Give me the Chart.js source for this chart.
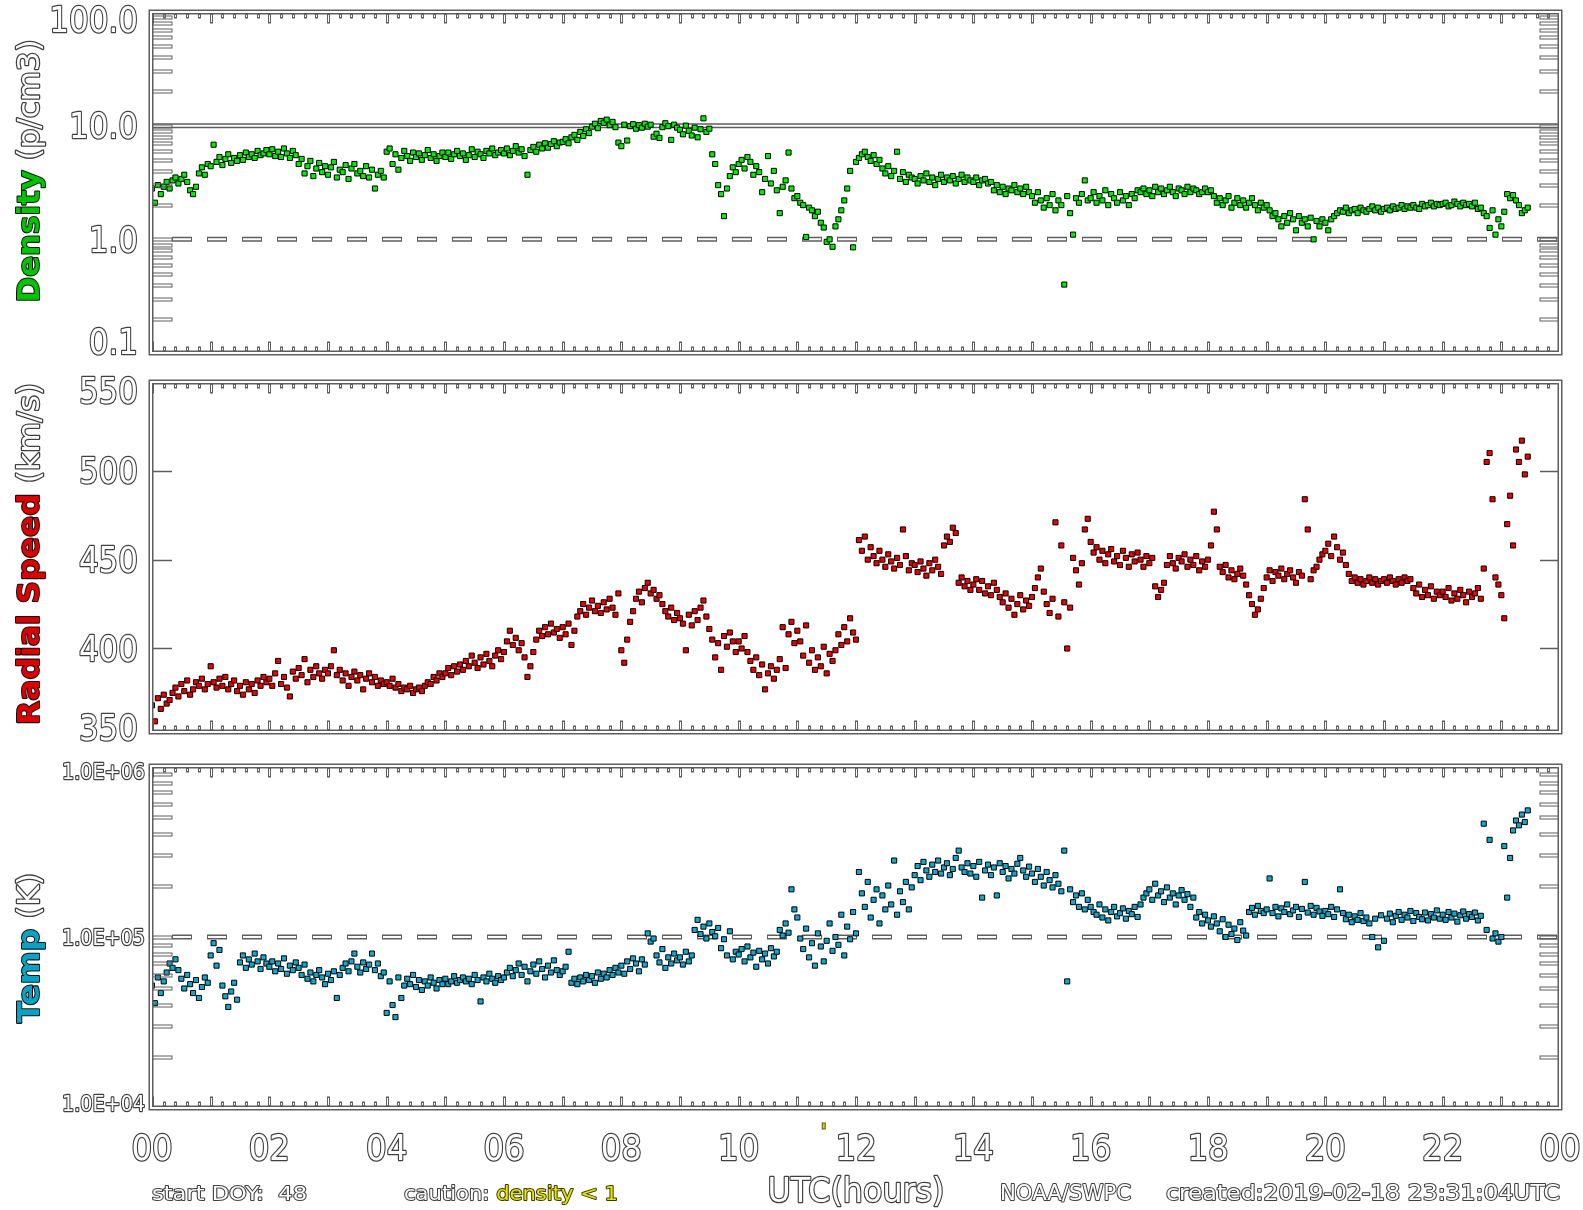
<!DOCTYPE html>
<html>
<head>
<meta charset="utf-8">
<title>Solar wind plasma, 24 h</title>
<script src="https://cdn.jsdelivr.net/npm/chart.js@4.4.1/dist/chart.umd.min.js"></script>
<style>
  html, body { margin: 0; padding: 0; background: #ffffff; }
  #wrap { position: relative; width: 1583px; height: 1210px; overflow: hidden; background: #fff; }
  #wrap canvas { position: absolute; left: 0; }
</style>
</head>
<body>
<div id="wrap">
  <canvas id="cDensity" width="1583" height="370" style="top:0px"></canvas>
  <canvas id="cSpeed" width="1583" height="380" style="top:370px"></canvas>
  <canvas id="cTemp" width="1583" height="460" style="top:750px"></canvas>
</div>
<script>
// Samples every 3 minutes, starting at 00 UTC.
const STEP_H = 0.05;

// Proton density, p/cm3
const density = [
  2.8, 2.1, 3.0, 2.5, 2.9, 3.2, 2.8, 3.3, 3.5, 3.1, 3.4, 3.7, 3.2, 2.7, 2.5, 2.9, 3.8, 4.3, 3.7, 4.6,
  4.4, 6.8, 4.8, 5.3, 4.5, 5.1, 5.6, 4.7, 5.2, 4.9, 5.5, 5.0, 5.8, 5.3, 5.6, 5.2, 6.0, 5.5, 5.7, 6.1,
  5.6, 6.2, 5.4, 5.9, 5.3, 6.3, 5.7, 5.2, 6.0, 5.5, 4.6, 5.1, 3.8, 4.4, 4.9, 3.6, 4.2, 4.7, 3.9, 4.4,
  3.7, 4.3, 4.8, 3.5, 4.1, 3.9, 4.5, 3.4, 4.2, 4.6, 3.8, 4.0, 3.6, 4.4, 3.5, 4.1, 2.8, 3.7, 4.0, 3.5,
  5.9, 6.3, 4.6, 5.6, 4.1, 5.2, 6.0, 5.4, 4.9, 5.8, 5.3, 5.7, 5.0, 5.5, 6.1, 5.2, 5.6, 4.9, 5.4, 5.8,
  5.3, 5.8, 5.1, 5.6, 6.0, 5.4, 5.7, 5.0, 5.5, 6.2, 5.3, 5.9, 5.6, 5.2, 6.0, 5.7, 6.3, 5.5, 5.8, 6.1,
  5.7, 6.3, 5.5, 6.0, 6.6, 5.8, 6.2, 5.4, 3.7, 6.1, 6.5, 5.9, 6.8, 6.3, 7.0, 6.4, 6.9, 7.3, 6.6, 7.1,
  7.2, 7.6, 7.0, 7.9, 8.3, 7.5, 8.8, 8.1, 9.3, 8.6, 9.8, 10.4, 9.5, 11.0, 10.6, 11.3, 10.1, 10.8, 9.7, 7.1,
  6.6, 10.2, 7.4, 9.9, 10.3, 9.4, 10.1, 9.6, 10.4, 9.8, 10.2, 8.0, 8.5, 7.8, 9.7, 10.5, 9.9, 7.5, 10.2, 9.6,
  9.2, 8.4, 10.0, 9.0, 8.2, 9.6, 7.9, 9.3, 11.6, 8.8, 9.4, 5.6, 4.6, 3.0, 2.5, 1.6, 2.8, 3.6, 4.3, 3.9,
  4.6, 5.0, 4.2, 5.3, 4.8, 3.7, 4.4, 3.9, 2.6, 3.4, 5.4, 3.1, 4.0, 2.7, 1.7, 2.9, 3.3, 5.8, 2.8, 2.3,
  2.4, 2.1, 2.0, 1.05, 1.9, 1.8, 1.6, 1.75, 1.4, 1.27, 0.95, 1.0, 0.86, 1.3, 1.5, 1.8, 2.2, 2.8, 4.0, 0.85,
  4.8, 5.2, 5.6, 5.9, 5.3, 4.9, 5.5, 4.6, 5.0, 4.2, 3.8, 4.4, 3.6, 4.0, 5.9, 3.4, 3.9, 3.2, 3.7, 3.5,
  3.4, 3.1, 3.6, 3.3, 3.8, 3.2, 3.5, 3.0, 3.4, 3.7, 3.2, 3.5, 3.3, 3.6, 3.1, 3.4, 3.7, 3.2, 3.5, 3.3,
  3.2, 3.5, 3.0, 3.3, 3.4, 3.1, 3.2, 2.7, 3.0, 2.6, 2.9, 2.5, 2.8, 2.7, 3.0, 2.6, 2.8, 2.5, 2.9, 2.6,
  2.4, 2.1, 2.6, 2.2, 1.9, 2.3, 2.0, 2.5, 1.8, 2.2, 2.0, 0.4, 2.4, 1.7, 1.1, 2.3, 2.1, 2.5, 3.3, 2.2,
  2.3, 2.6, 2.1, 2.4, 2.2, 2.7, 2.0, 2.5, 2.3, 2.1, 2.6, 2.2, 2.4, 2.0, 2.5, 2.3, 2.7, 2.6, 2.8, 2.5,
  2.7, 2.4, 2.9, 2.6, 2.8, 2.5, 2.7, 2.9, 2.6, 2.4, 2.8, 2.7, 2.5, 2.9, 2.6, 2.8, 2.7, 2.5, 2.6, 2.8,
  2.6, 2.7, 2.4, 2.1, 2.3, 2.0, 2.2, 2.4, 1.9, 2.1, 2.3, 2.0, 2.2, 1.9, 2.1, 2.3, 2.0, 1.8, 2.1, 1.9,
  2.0, 1.8, 1.6, 1.7, 1.5, 1.3, 1.6, 1.4, 1.7, 1.5, 1.2, 1.6, 1.4, 1.5, 1.3, 1.55, 1.0, 1.45, 1.3, 1.5,
  1.4, 1.2, 1.5, 1.6, 1.7, 1.8, 1.75, 1.9, 1.7, 1.8, 1.85, 1.7, 1.9, 1.8, 1.75, 1.85, 1.95, 1.8, 1.9, 1.75,
  1.85, 1.9, 1.8, 1.95, 1.85, 1.9, 2.0, 1.85, 1.95, 1.9, 2.0, 1.9, 1.85, 2.05, 1.95, 2.0, 2.1, 1.95, 2.05, 2.0,
  2.05, 2.1, 1.95, 2.0, 2.15, 2.05, 1.95, 2.1, 2.0, 2.05, 1.95, 2.1, 1.85, 1.9, 1.7, 1.6, 1.26, 1.8, 1.1, 1.5,
  1.3, 1.75, 2.5, 2.3, 2.45, 2.2, 2.0, 1.7, 1.8, 1.9
];

// Radial bulk speed, km/s
const speed = [
  368, 359, 372, 366, 374, 369, 371, 375, 378, 373, 380, 376, 382, 374, 377, 381, 379, 383, 377, 380,
  390, 381, 378, 383, 379, 384, 377, 380, 382, 376, 379, 374, 381, 377, 380, 375, 382, 379, 384, 381,
  383, 379, 386, 393, 380, 384, 378, 373, 387, 383, 389, 385, 394, 381, 388, 384, 390, 386, 383, 388,
  386, 390, 399, 385, 388, 382, 386, 379, 384, 387, 382, 385, 377, 383, 386, 381, 384, 379, 382, 380,
  381, 379, 383, 378, 380, 376, 378, 377, 379, 375, 377, 378, 376, 379, 381, 380, 384, 382, 386, 384,
  386, 389, 385, 390, 387, 391, 388, 393, 390, 396, 392, 389, 395, 391, 397, 393, 390, 396, 399, 394,
  398, 404, 410, 402, 406, 399, 403, 395, 384, 390, 398, 405, 410, 407, 412, 408, 414, 409, 411, 406,
  412, 408, 414, 402, 410, 418, 421, 425, 419, 423, 427, 421, 424, 420, 426, 422, 428, 423, 419, 431,
  399, 392, 405, 415, 421, 428, 432, 426, 434, 437, 431, 433, 428, 430, 425, 421, 418, 423, 416, 420,
  417, 414, 399, 419, 413, 421, 416, 423, 427, 418, 411, 405, 395, 403, 388, 407, 401, 409, 404, 398,
  404, 400, 407, 398, 393, 388, 395, 385, 391, 377, 386, 390, 383, 388, 394, 412, 389, 408, 415, 403,
  410, 404, 396, 413, 392, 399, 388, 395, 390, 401, 386, 397, 393, 399, 408, 402, 412, 404, 417, 409,
  405, 461, 455, 463, 450, 457, 452, 448, 455, 450, 446, 453, 449, 445, 451, 447, 467, 452, 444, 448,
  447, 443, 449, 445, 441, 448, 444, 450, 446, 442, 458, 463, 460, 468, 465, 437, 440, 435, 438, 433,
  436, 439, 433, 438, 431, 435, 430, 437, 433, 429, 426, 431, 423, 428, 419, 425, 430, 422, 427, 424,
  429, 434, 440, 445, 432, 425, 420, 428, 471, 418, 458, 426, 400, 423, 451, 444, 436, 448, 467, 473,
  460, 454, 457, 450, 455, 448, 453, 456, 449, 452, 447, 455, 451, 446, 453, 449, 454, 450, 446, 452,
  448, 451, 435, 429, 433, 437, 447, 452, 448, 445, 451, 449, 453, 446, 450, 447, 452, 444, 449, 446,
  450, 458, 477, 467, 446, 443, 447, 440, 444, 439, 442, 445, 441, 436, 430, 425, 419, 422, 428, 434,
  440, 444, 438, 443, 441, 445, 439, 442, 444, 440, 437, 443, 441, 484, 467, 439, 444, 446, 450, 453,
  455, 459, 452, 463, 457, 450, 454, 447, 442, 438, 440, 437, 439, 436, 438, 440, 437, 439, 436, 438,
  439, 437, 440, 438, 436, 439, 437, 440, 438, 439, 434, 431, 436, 429, 433, 430, 435, 428, 432, 430,
  432, 429, 434, 427, 431, 428, 433, 430, 426, 432, 429, 431, 434, 428, 445, 505, 510, 484, 440, 436,
  430, 417, 470, 486, 458, 512, 505, 517, 498, 508
];

// Ion temperature, K
const temperature = [
  52e3, 41e3, 58e3, 47e3, 55e3, 62e3, 70e3, 66e3, 74e3, 64e3, 57e3, 50e3, 60e3, 53e3, 47e3, 56e3, 44e3, 51e3, 58e3, 54e3,
  78e3, 92e3, 68e3, 84e3, 52e3, 45e3, 39e3, 48e3, 54e3, 43e3, 71e3, 78e3, 66e3, 74e3, 69e3, 80e3, 72e3, 65e3, 76e3, 70e3,
  67e3, 72e3, 63e3, 70e3, 65e3, 75e3, 61e3, 68e3, 64e3, 71e3, 66e3, 60e3, 69e3, 57e3, 62e3, 55e3, 60e3, 64e3, 58e3, 53e3,
  61e3, 56e3, 63e3, 44e3, 60e3, 66e3, 70e3, 63e3, 72e3, 80e3, 67e3, 62e3, 71e3, 65e3, 69e3, 80e3, 64e3, 70e3, 59e3, 62e3,
  36e3, 55e3, 40e3, 34e3, 58e3, 44e3, 52e3, 57e3, 53e3, 60e3, 51e3, 56e3, 49e3, 55e3, 52e3, 58e3, 54e3, 50e3, 56e3, 53e3,
  57e3, 53e3, 55e3, 59e3, 54e3, 56e3, 58e3, 55e3, 57e3, 53e3, 60e3, 56e3, 42e3, 58e3, 55e3, 61e3, 57e3, 54e3, 59e3, 56e3,
  58e3, 62e3, 66e3, 59e3, 64e3, 70e3, 60e3, 67e3, 55e3, 63e3, 69e3, 61e3, 72e3, 65e3, 58e3, 68e3, 62e3, 73e3, 64e3, 60e3,
  63e3, 67e3, 82e3, 54e3, 57e3, 53e3, 58e3, 55e3, 60e3, 56e3, 59e3, 54e3, 62e3, 57e3, 61e3, 58e3, 64e3, 60e3, 66e3, 62e3,
  68e3, 61e3, 72e3, 65e3, 75e3, 70e3, 63e3, 74e3, 69e3, 105e3, 94e3, 98e3, 78e3, 71e3, 85e3, 66e3, 76e3, 70e3, 80e3, 73e3,
  76e3, 69e3, 82e3, 72e3, 78e3, 110e3, 126e3, 104e3, 115e3, 98e3, 120e3, 107e3, 101e3, 113e3, 86e3, 97e3, 78e3, 108e3, 74e3, 82e3,
  79e3, 85e3, 72e3, 88e3, 76e3, 81e3, 67e3, 83e3, 74e3, 80e3, 70e3, 86e3, 77e3, 82e3, 110e3, 102e3, 120e3, 106e3, 190e3, 145e3,
  130e3, 98e3, 85e3, 112e3, 76e3, 92e3, 68e3, 105e3, 88e3, 72e3, 95e3, 120e3, 83e3, 100e3, 90e3, 135e3, 78e3, 115e3, 97e3, 140e3,
  105e3, 240e3, 180e3, 150e3, 210e3, 130e3, 165e3, 190e3, 120e3, 175e3, 145e3, 200e3, 155e3, 280e3, 135e3, 185e3, 160e3, 210e3, 145e3, 195e3,
  230e3, 260e3, 215e3, 275e3, 245e3, 225e3, 265e3, 240e3, 280e3, 235e3, 255e3, 270e3, 230e3, 250e3, 290e3, 320e3, 255e3, 240e3, 270e3, 235e3,
  260e3, 225e3, 275e3, 170e3, 245e3, 265e3, 230e3, 255e3, 175e3, 270e3, 240e3, 260e3, 220e3, 250e3, 235e3, 268e3, 290e3, 245e3, 225e3, 258e3,
  235e3, 210e3, 250e3, 225e3, 200e3, 240e3, 215e3, 195e3, 230e3, 205e3, 185e3, 320e3, 55e3, 190e3, 160e3, 175e3, 150e3, 180e3, 145e3, 165e3,
  150e3, 140e3, 135e3, 155e3, 130e3, 145e3, 125e3, 140e3, 150e3, 132e3, 138e3, 147e3, 128e3, 142e3, 136e3, 150e3, 131e3, 155e3, 170e3, 180e3,
  190e3, 165e3, 205e3, 175e3, 185e3, 160e3, 195e3, 170e3, 180e3, 155e3, 175e3, 188e3, 165e3, 178e3, 150e3, 170e3, 130e3, 140e3, 120e3, 135e3,
  125e3, 115e3, 132e3, 120e3, 108e3, 127e3, 100e3, 118e3, 104e3, 112e3, 96e3, 122e3, 109e3, 102e3, 140e3, 148e3, 135e3, 152e3, 142e3, 138e3,
  145e3, 220e3, 138e3, 150e3, 132e3, 147e3, 140e3, 155e3, 136e3, 143e3, 150e3, 131e3, 146e3, 210e3, 139e3, 152e3, 135e3, 148e3, 141e3, 133e3,
  142e3, 136e3, 150e3, 131e3, 145e3, 190e3, 138e3, 127e3, 135e3, 122e3, 132e3, 126e3, 138e3, 124e3, 130e3, 120e3, 100e3, 128e3, 87e3, 134e3,
  95e3, 128e3, 137e3, 122e3, 133e3, 140e3, 126e3, 135e3, 130e3, 142e3, 124e3, 138e3, 131e3, 127e3, 139e3, 125e3, 136e3, 130e3, 143e3, 128e3,
  135e3, 126e3, 140e3, 130e3, 137e3, 123e3, 134e3, 141e3, 128e3, 136e3, 131e3, 139e3, 125e3, 133e3, 460e3, 110e3, 370e3, 98e3, 105e3, 94e3,
  100e3, 340e3, 170e3, 290e3, 420e3, 480e3, 450e3, 520e3, 470e3, 550e3
];

// Hours flagged "density < 1" under the time axis
const cautionHours = [11.45];

// Axis ticks and their printed labels
const hourTicks = [0, 2, 4, 6, 8, 10, 12, 14, 16, 18, 20, 22, 24];
const hourTickLabels = ['00', '02', '04', '06', '08', '10', '12', '14', '16', '18', '20', '22', '00'];
const densityTicks = [0.1, 1, 10, 100];
const densityTickLabels = ['0.1', '1.0', '10.0', '100.0'];
const speedTicks = [350, 400, 450, 500, 550];
const speedTickLabels = ['350', '400', '450', '500', '550'];
const tempTicks = [1e4, 1e5, 1e6];
const tempTickLabels = ['1.0E+04', '1.0E+05', '1.0E+06'];

// Footer captions
const startDoyText = 'start DOY:  48';
const cautionText = 'caution: ';
const cautionFlagText = 'density < 1';
const timeAxisTitle = 'UTC(hours)';
const sourceText = 'NOAA/SWPC';
const createdText = 'created:2019-02-18 23:31:04UTC';

const FONT = '"DejaVu Sans", "Liberation Sans", sans-serif';
const LINE_GRAY = '#5e5e5e';
const TEXT_GRAY = '#404040';

function toPoints(values) {
  return values.map((v, i) => ({ x: Math.round(i * STEP_H * 100) / 100, y: v }));
}

// Text drawn as a run of segments; each segment stroked then filled,
// so plain labels come out as outlined (hollow) glyphs.
function drawRuns(ctx, runs, x, y, o) {
  ctx.save();
  ctx.translate(x, y);
  if (o.rot) ctx.rotate(o.rot);
  const fonts = runs.map(r => `${r.bold ? 'bold ' : ''}${o.size}px ${FONT}`);
  const widths = runs.map((r, i) => { ctx.font = fonts[i]; return ctx.measureText(r.text).width; });
  const total = widths.reduce((a, b) => a + b, 0);
  const sx = o.width ? o.width / total : (o.sx || 1);
  ctx.scale(sx, 1);
  let cx = o.align === 'left' ? 0 : (o.align === 'right' ? -total : -total / 2);
  ctx.textAlign = 'left';
  ctx.textBaseline = 'middle';
  ctx.lineJoin = 'round';
  runs.forEach((r, i) => {
    ctx.font = fonts[i];
    ctx.lineWidth = r.lw || 2.5;
    ctx.strokeStyle = r.stroke || TEXT_GRAY;
    ctx.strokeText(r.text, cx, 0);
    ctx.fillStyle = r.fill || '#ffffff';
    ctx.fillText(r.text, cx, 0);
    cx += widths[i];
  });
  ctx.restore();
}

// Double ("hollow") stroke used for frames and reference lines
function hollowPath(ctx, buildPath, dashOuter, dashInner) {
  ctx.save();
  ctx.lineCap = 'butt';
  ctx.beginPath(); buildPath();
  ctx.setLineDash(dashOuter || []);
  ctx.lineWidth = 5; ctx.strokeStyle = LINE_GRAY; ctx.stroke();
  ctx.setLineDash(dashInner || []);
  if (dashInner) ctx.lineDashOffset = -1;
  ctx.lineWidth = 2; ctx.strokeStyle = '#ffffff'; ctx.stroke();
  ctx.restore();
}

function decorPlugin(spec) {
  return {
    id: 'panelDecor',
    beforeDatasetsDraw(chart) {
      const ctx = chart.ctx, a = chart.chartArea, ys = chart.scales.y;
      (spec.solidAt || []).forEach(v => {
        const py = ys.getPixelForValue(v);
        hollowPath(ctx, () => { ctx.moveTo(a.left, py); ctx.lineTo(a.right, py); });
      });
      (spec.dashAt || []).forEach(v => {
        const py = ys.getPixelForValue(v);
        hollowPath(ctx, () => { ctx.moveTo(a.left + 20, py); ctx.lineTo(a.right, py); }, [20, 15], [18, 17]);
      });
    },
    afterDraw(chart) {
      const ctx = chart.ctx, a = chart.chartArea, xs = chart.scales.x, ys = chart.scales.y;
      ctx.save();
      // time ticks on top and bottom edges: hourly long, 12-minute short
      ctx.strokeStyle = LINE_GRAY;
      ctx.lineWidth = 1;
      for (let k = 0; k <= 120; k++) {
        const t = k * 0.2;
        const px = Math.round(xs.getPixelForValue(t)) + 0.5;
        const len = (k % 5 === 0) ? 9 : 4;
        ctx.strokeRect(px - 1, a.top + 2, 2, len);
        ctx.strokeRect(px - 1, a.bottom - 2 - len, 2, len);
      }
      // value ticks on the left and right edges
      const yt = [];
      if (spec.log) {
        const lo = Math.round(Math.log10(ys.min)), hi = Math.round(Math.log10(ys.max));
        for (let d = lo; d < hi; d++) {
          for (let m = 1; m <= 9; m++) {
            const v = m * Math.pow(10, d);
            if (v > ys.min && v < ys.max) yt.push(v);
          }
        }
      } else {
        spec.ticks.forEach(v => { if (v > ys.min && v < ys.max) yt.push(v); });
      }
      yt.forEach(v => {
        const py = Math.round(ys.getPixelForValue(v)) + 0.5;
        if (spec.log) {
          ctx.strokeRect(a.left, py - 1.5, 20, 3);
          ctx.strokeRect(a.right - 20, py - 1.5, 20, 3);
        } else {
          ctx.lineWidth = 1.6;
          ctx.beginPath();
          ctx.moveTo(a.left, py); ctx.lineTo(a.left + 20, py);
          ctx.moveTo(a.right - 20, py); ctx.lineTo(a.right, py);
          ctx.stroke();
          ctx.lineWidth = 1;
        }
      });
      ctx.restore();

      // frame
      hollowPath(ctx, () => { ctx.rect(a.left - 1, a.top, a.right - a.left + 1, a.bottom - a.top); });

      // value labels
      spec.ticks.forEach((v, i) => {
        let py = ys.getPixelForValue(v) + spec.labelShift;
        py = Math.max(a.top + spec.clampTop, Math.min(a.bottom - spec.clampBottom, py));
        drawRuns(ctx, [{ text: spec.tickLabels[i] }], spec.labelRight, py,
          { size: spec.labelSize, sx: spec.labelSx, align: 'right' });
      });

      // rotated axis title
      drawRuns(ctx, spec.title, 31, spec.titleY, { size: 30, width: spec.titleLen, rot: -Math.PI / 2 });

      if (spec.footer) spec.footer(chart);
    }
  };
}

function makePanel(id, values, color, yScale, pad, spec) {
  return new Chart(document.getElementById(id), {
    type: 'scatter',
    data: {
      datasets: [{
        data: toPoints(values),
        pointStyle: 'rect',
        pointRadius: 3.6,
        pointBackgroundColor: color,
        pointBorderColor: '#000000',
        pointBorderWidth: 1,
        showLine: false
      }]
    },
    options: {
      responsive: false,
      animation: false,
      events: [],
      layout: { padding: pad },
      plugins: { legend: { display: false }, tooltip: { enabled: false } },
      scales: {
        x: { type: 'linear', min: 0, max: 24, display: false },
        y: Object.assign({ display: false }, yScale)
      }
    },
    plugins: [decorPlugin(spec)]
  });
}

// Density panel
makePanel('cDensity', density, '#00ee00',
  { type: 'logarithmic', min: 0.1, max: 100 },
  { left: 152, right: 23, top: 12, bottom: 17 },
  {
    log: true, ticks: densityTicks, tickLabels: densityTickLabels,
    solidAt: [10], dashAt: [1],
    labelRight: 138, labelSize: 36, labelSx: 0.86, labelShift: 3, clampTop: 11, clampBottom: 8,
    titleY: 171, titleLen: 263,
    title: [
      { text: 'Density', fill: '#00c400', stroke: '#101010', bold: true, lw: 2 },
      { text: ' (p/cm3)' }
    ]
  });

// Radial speed panel
makePanel('cSpeed', speed, '#ee0000',
  { type: 'linear', min: 353, max: 550 },
  { left: 152, right: 23, top: 12, bottom: 18 },
  {
    log: false, ticks: speedTicks, tickLabels: speedTickLabels,
    labelRight: 138, labelSize: 36, labelSx: 0.86, labelShift: 3, clampTop: 12, clampBottom: 1,
    titleY: 184, titleLen: 342,
    title: [
      { text: 'Radial Speed', fill: '#dd0000', stroke: '#101010', bold: true, lw: 2 },
      { text: ' (km/s)' }
    ]
  });

// Temperature panel, with the time axis and footer captions underneath
makePanel('cTemp', temperature, '#12a8cc',
  { type: 'logarithmic', min: 1e4, max: 1e6 },
  { left: 152, right: 23, top: 16, bottom: 102 },
  {
    log: true, ticks: tempTicks, tickLabels: tempTickLabels,
    dashAt: [1e5],
    labelRight: 145, labelSize: 22, labelSx: 0.87, labelShift: 2, clampTop: 7, clampBottom: 3,
    titleY: 198, titleLen: 150,
    title: [
      { text: 'Temp', fill: '#0aa2c2', stroke: '#101010', bold: true, lw: 2 },
      { text: ' (K)' }
    ],
    footer(chart) {
      const ctx = chart.ctx, xs = chart.scales.x, a = chart.chartArea;
      hourTicks.forEach((t, i) => {
        drawRuns(ctx, [{ text: hourTickLabels[i] }], xs.getPixelForValue(t), 401, { size: 36, sx: 0.9 });
      });
      cautionHours.forEach(t => {
        const px = xs.getPixelForValue(t);
        ctx.fillStyle = '#d8d400';
        ctx.strokeStyle = '#5a5a00';
        ctx.lineWidth = 1;
        ctx.fillRect(px - 1.5, a.bottom + 15, 3, 6);
        ctx.strokeRect(px - 1.5, a.bottom + 15, 3, 6);
      });
      const fy = 445;
      drawRuns(ctx, [{ text: startDoyText, lw: 2 }], 152, fy, { size: 20, width: 155, align: 'left' });
      drawRuns(ctx, [
        { text: cautionText, lw: 2 },
        { text: cautionFlagText, fill: '#e8e400', stroke: '#3a3a00', lw: 2 }
      ], 404, fy, { size: 20, width: 214, align: 'left' });
      drawRuns(ctx, [{ text: timeAxisTitle }], (a.left + a.right) / 2, fy - 2, { size: 34, width: 177 });
      drawRuns(ctx, [{ text: sourceText, lw: 2 }], 1000, fy, { size: 21, width: 131, align: 'left' });
      drawRuns(ctx, [{ text: createdText, lw: 2 }], 1166, fy, { size: 21, width: 394, align: 'left' });
    }
  });
</script>
</body>
</html>
